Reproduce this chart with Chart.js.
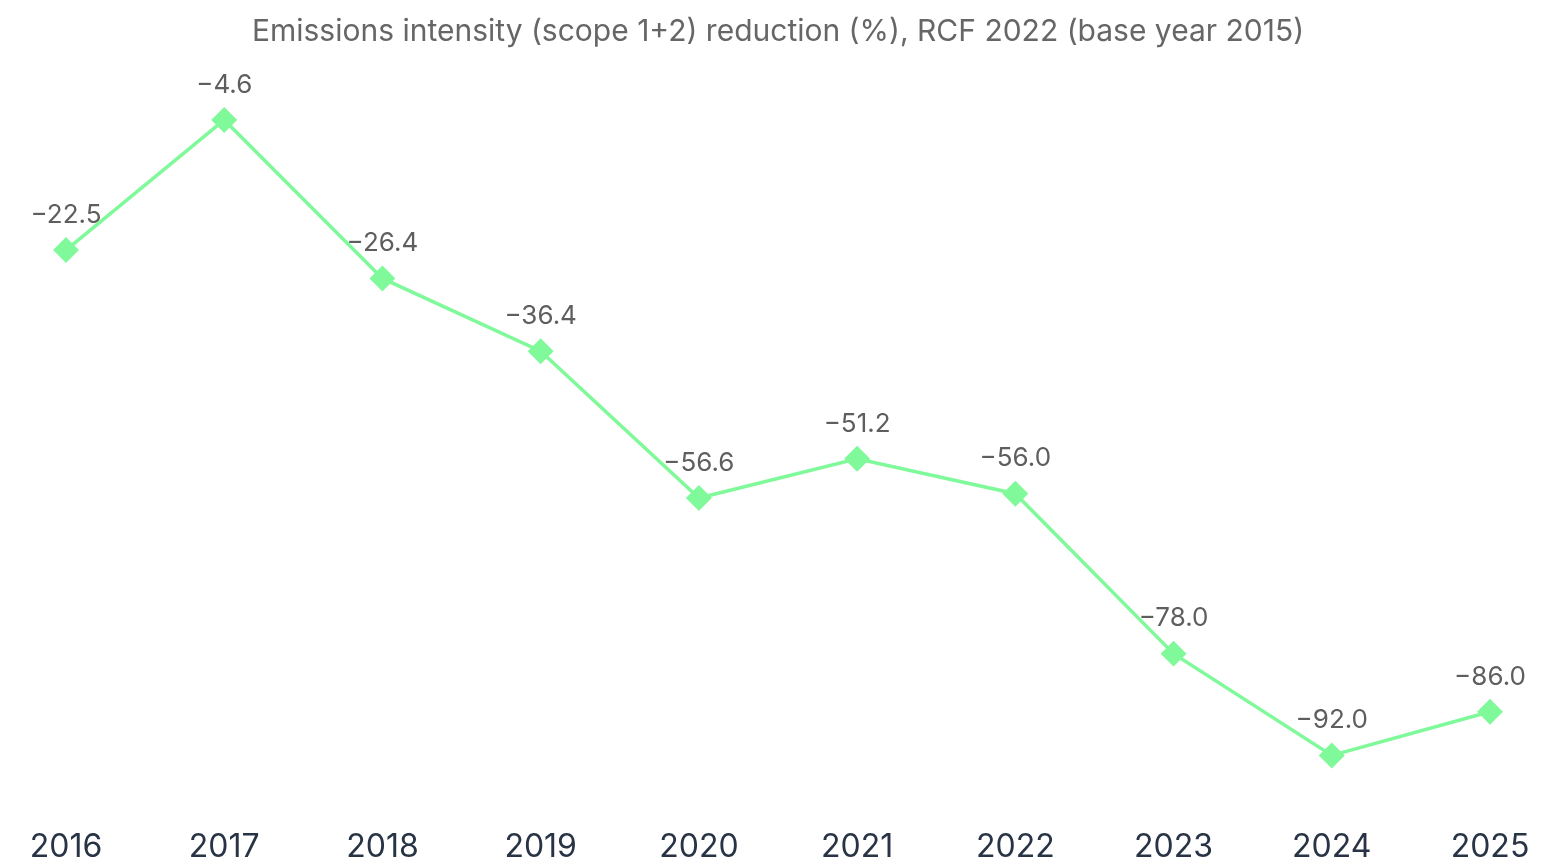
<!DOCTYPE html>
<html>
<head>
<meta charset="utf-8">
<script src="https://cdn.jsdelivr.net/npm/chart.js@4/dist/chart.umd.min.js"></script>
<style>
  html, body { margin: 0; padding: 0; background: #fff; overflow: hidden; }
  #wrap { width: 1548px; height: 882px; }
</style>
</head>
<body>
<div id="wrap"><canvas id="intensityChart"></canvas></div>
<script>
// --- DATA ---
const years = ['2016', '2017', '2018', '2019', '2020', '2021', '2022', '2023', '2024', '2025'];
const reduction = [-22.5, -4.6, -26.4, -36.4, -56.6, -51.2, -56.0, -78.0, -92.0, -86.0];
const chartTitle = 'Emissions intensity (scope 1+2) reduction (%), RCF 2022 (base year 2015)';

const FONT = 'Inter, "Noto Sans", sans-serif';
const LINE_GREEN = '#80f99b';

// value labels above each point (drawn under the line)
const pointLabels = {
    id: 'pointLabels',
    beforeDatasetsDraw(chart) {
        const { ctx } = chart;
        const meta = chart.getDatasetMeta(0);
        ctx.save();
        ctx.font = '26px ' + FONT;
        ctx.fillStyle = '#5e5e5e';
        ctx.textAlign = 'center';
        ctx.textBaseline = 'middle';
        meta.data.forEach((pt, i) => {
            const txt = reduction[i].toFixed(1).replace('-', '\u2212');
            ctx.fillText(txt, pt.x, pt.y - 35);
        });
        ctx.restore();
    }
};

const ctx = document.getElementById('intensityChart').getContext('2d');
const intensityChart = new Chart(ctx, {
    type: 'line',
    data: {
        labels: years,
        datasets: [{
            data: reduction,
            borderColor: LINE_GREEN,
            backgroundColor: LINE_GREEN,
            borderWidth: 3.5,
            pointStyle: 'rectRot',
            pointRadius: 10.5,
            pointHoverRadius: 10.5,
            tension: 0
        }]
    },
    options: {
        responsive: true,
        maintainAspectRatio: false,
        animation: false,
        layout: { padding: { left: 66, right: 58, top: 0, bottom: 0 } },
        plugins: {
            legend: { display: false },
            tooltip: { enabled: false },
            title: {
                display: true,
                text: chartTitle,
                color: '#666666',
                font: { family: FONT, size: 30, weight: 'normal' },
                padding: { top: 14, bottom: 36.5 }
            }
        },
        scales: {
            x: {
                offset: false,
                grid: { display: false, drawTicks: false },
                border: { display: false },
                ticks: {
                    color: '#283445',
                    font: { family: FONT, size: 32 },
                    padding: 15,
                    maxRotation: 0
                }
            },
            y: {
                display: false,
                min: -100,
                max: 0
            }
        }
    },
    plugins: [pointLabels]
});
</script>
</body>
</html>
